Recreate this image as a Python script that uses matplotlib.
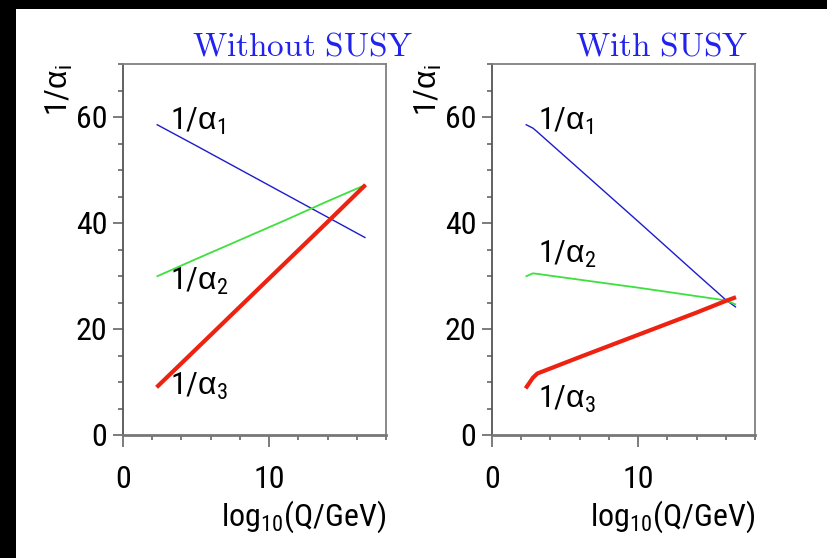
import matplotlib
matplotlib.use("Agg")
from matplotlib import pyplot as plt
from matplotlib import font_manager
from matplotlib.patches import Rectangle
from matplotlib.ticker import MultipleLocator

avail = {f.name for f in font_manager.fontManager.ttflist}
narrow = next((n for n in ['Nimbus Sans Narrow', 'Liberation Sans Narrow',
                           'Roboto Condensed', 'Arimo Narrow', 'Archivo Narrow']
               if n in avail), 'Liberation Sans')

plt.rcParams['font.family'] = [narrow, 'Liberation Sans', 'DejaVu Sans']
plt.rcParams['mathtext.fontset'] = 'custom'
plt.rcParams['mathtext.rm'] = narrow
plt.rcParams['mathtext.it'] = 'Liberation Sans'
plt.rcParams['mathtext.bf'] = narrow

# log10(Q/GeV) and inverse couplings
q_nosusy = [2.3, 5, 8, 11, 14, 16.6]
a1_nosusy = [58.6, 54.6, 50.1, 45.6, 41.1, 37.2]
a2_nosusy = [29.9, 33.2, 36.8, 40.4, 44.1, 47.2]
a3_nosusy = [9.0, 16.2, 24.2, 32.2, 40.2, 47.2]

q_susy = [2.3, 2.8, 3.1, 6, 10, 14, 16.0, 16.7]
a1_susy = [58.6, 57.9, 57.2, 50.1, 40.3, 30.4, 25.5, 24.1]
a2_susy = [29.9, 30.5, 30.4, 29.3, 27.8, 26.2, 25.4, 24.6]
a3_susy = [8.8, 10.8, 11.6, 14.7, 18.9, 23.1, 25.3, 26.0]

labels = [r'$1/\alpha_1$', r'$1/\alpha_2$', r'$1/\alpha_3$']
label_pos_nosusy = [(3.2, 57.5), (3.2, 27.4), (3.2, 7.5)]
label_pos_susy = [(3.15, 57.5), (3.15, 32.5), (3.15, 5.1)]

titles = ['Without SUSY', 'With SUSY']

fig = plt.figure(figsize=(8.27, 5.58), dpi=100, facecolor='white')
# black strips along the top and left edges
fig.add_artist(Rectangle((0, 549 / 558), 1, 9 / 558, transform=fig.transFigure,
                         facecolor='black', edgecolor='none', zorder=-10))
fig.add_artist(Rectangle((0, 0), 16 / 827, 1, transform=fig.transFigure,
                         facecolor='black', edgecolor='none', zorder=-10))

ax1 = fig.add_axes([123 / 827, 123 / 558, 263 / 827, 371 / 558])
ax2 = fig.add_axes([492 / 827, 123 / 558, 263 / 827, 371 / 558])

colors = ['#1c1ccc', '#3ee03e', '#ee2211']
widths = [1.0, 1.3, 3.0]

panels = [
    (ax1, q_nosusy, [a1_nosusy, a2_nosusy, a3_nosusy], label_pos_nosusy),
    (ax2, q_susy, [a1_susy, a2_susy, a3_susy], label_pos_susy),
]

for ax, q, curves, lpos in panels:
    for y, c, lw in zip(curves, colors, widths):
        ax.plot(q, y, color=c, linewidth=lw, solid_capstyle='butt')
    for txt, (x, y) in zip(labels, lpos):
        ax.text(x, y, txt, fontsize=23, va='baseline', ha='left')

    ax.set_xlim(0, 18)
    ax.set_ylim(0, 70)
    ax.xaxis.set_major_locator(MultipleLocator(10))
    ax.xaxis.set_minor_locator(MultipleLocator(2))
    ax.yaxis.set_major_locator(MultipleLocator(20))
    ax.yaxis.set_minor_locator(MultipleLocator(5))
    ax.set_yticks([0, 20, 40, 60])

    ax.tick_params(axis='both', which='both', direction='out', labelsize=23,
                   color='#666666', width=1.2)
    ax.tick_params(axis='y', which='major', length=7.2, pad=4)
    ax.tick_params(axis='y', which='minor', length=3.6)
    ax.tick_params(axis='x', which='major', length=8.6, pad=13)
    ax.tick_params(axis='x', which='minor', length=3.6)

    for s in ['top', 'right']:
        ax.spines[s].set_color('#808080')
        ax.spines[s].set_linewidth(1.3)
    ax.spines['left'].set_color('#555555')
    ax.spines['left'].set_linewidth(1.3)
    ax.spines['bottom'].set_color('#777777')
    ax.spines['bottom'].set_linewidth(2.0)

    ax.text(1.0, -0.245, r'$\mathrm{log}_{10}\mathrm{(Q/GeV)}$', transform=ax.transAxes,
            ha='right', va='baseline', fontsize=23)
    ax.text(-0.24, 1.0, r'$1/\alpha_i$', transform=ax.transAxes,
            rotation=90, ha='center', va='top', fontsize=23)

title_x = [413 / 827, 748 / 827]
for t, x in zip(titles, title_x):
    fig.text(x, 1 - 55 / 558, r'$\mathrm{%s}$' % t.replace(' ', r'\ '), color='#2222ee',
             fontsize=24, ha='right', va='baseline', math_fontfamily='cm')

fig.savefig('out.png', dpi=100, facecolor=fig.get_facecolor())
